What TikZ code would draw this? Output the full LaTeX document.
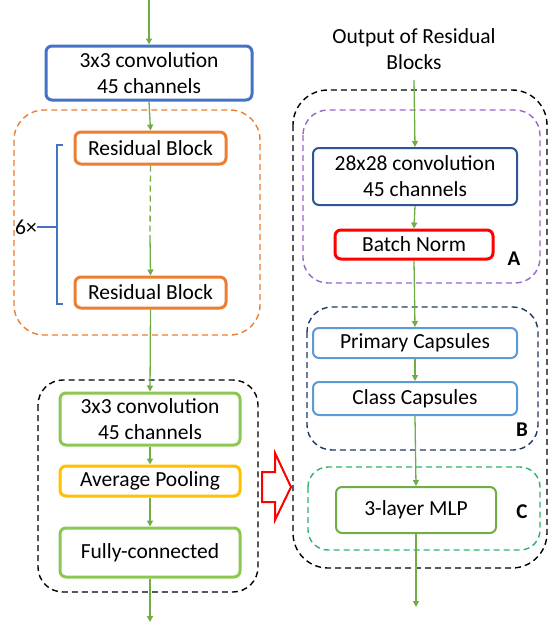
\documentclass[tikz,border=0pt]{standalone}
\usepackage{fontspec}
\setmainfont{Carlito}
\usetikzlibrary{arrows.meta}
\definecolor{cblue}{HTML}{4472C4}
\definecolor{corange}{HTML}{ED7D31}
\definecolor{cgreen}{HTML}{8CC751}
\definecolor{cgreenB}{HTML}{70AD47}
\definecolor{cyellow}{HTML}{FFC000}
\definecolor{cnavy}{HTML}{2F5597}
\definecolor{cdarknavy}{HTML}{1F3864}
\definecolor{clight}{HTML}{5B9BD5}
\definecolor{cpurple}{HTML}{9966CC}
\definecolor{cdgreen}{HTML}{2DB36A}
\tikzset{
  box/.style={draw, rounded corners=6pt, fill=white, align=center, inner sep=0pt,
    font=\fontsize{21.5}{26}\selectfont},
  thickbox/.style={box, line width=3pt},
  thinbox/.style={box, line width=2pt},
  flow/.style={draw=cgreenB, line width=1.3pt, -{Triangle[length=6pt,width=6pt]}},
  group/.style={line width=1.4pt, dash pattern=on 6pt off 4pt, rounded corners=#1},
  tag/.style={font=\fontsize{21}{24}\selectfont\bfseries}
}
\begin{document}
\begin{tikzpicture}[x=1pt,y=-1pt]
\useasboundingbox (0,0) rectangle (548,624);

% ---- left branch: group frames ----
\draw[group=30pt, draw=corange] (14,110) rectangle (260,335);
\draw[group=25pt, draw=black] (38,380) rectangle (258,592);

% ---- left branch: blocks ----
\node[thickbox, draw=cblue, minimum width=206pt, minimum height=54pt] (conv1) at (149,73) {3x3 convolution\\45 channels};
\node[thickbox, draw=corange, minimum width=151pt, minimum height=32pt] (rb1) at (150.5,148) {Residual Block};
\node[thickbox, draw=corange, minimum width=151pt, minimum height=31pt] (rb2) at (150.5,292.5) {Residual Block};
\node[thickbox, draw=cgreen, minimum width=180pt, minimum height=52pt] (conv2) at (150,419) {3x3 convolution\\45 channels};
\node[thickbox, draw=cyellow, minimum width=180pt, minimum height=30pt] (pool) at (150,481) {Average Pooling};
\node[thickbox, draw=cgreen, minimum width=180pt, minimum height=49pt] (fc) at (150,552.5) {Fully-connected};

\coordinate (in1) at (149,0);
\coordinate (gap) at (150,235);
\coordinate (out1) at (150,622);

\draw[flow] (in1) -- (conv1.north);
\draw[flow] (conv1.south) -- (rb1.north);
\draw[draw=cgreenB, line width=1.3pt, dash pattern=on 6pt off 4pt] (rb1.south) -- (gap);
\draw[flow] (gap) -- (rb2.north);
\draw[flow] (rb2.south) -- (conv2.north);
\draw[flow] (conv2.south) -- (pool.north);
\draw[flow] (pool.south) -- (fc.north);
\draw[flow] (fc.south) -- (out1);

% repetition bracket
\coordinate (brtop) at (63,145);
\coordinate (brbot) at (63,304);
\node[font=\fontsize{21.5}{26}\selectfont, anchor=west, inner sep=0pt] (rep) at (15,227) {6×};
\draw[cblue, line width=1.5pt] (brtop) -- (57,145) -- (57,304) -- (brbot);
\draw[cblue, line width=1.5pt] (57,227) -- (rep.east);

% hand-over arrow
\draw[red, line width=2pt, fill=white] (262,472) -- (275,472) -- (275,453) -- (291,487)
  -- (275,520) -- (275,502) -- (262,502) -- cycle;

% ---- right branch ----
\node[font=\fontsize{21.5}{26}\selectfont, align=center, inner sep=0pt] (title) at (414,49) {Output of Residual\\Blocks};

\draw[group=35pt, draw=black] (293,90) rectangle (547,568);
\draw[group=25pt, draw=cpurple] (303,110) rectangle (540,283);
\draw[group=25pt, draw=cdarknavy] (307,307) rectangle (538,450);
\draw[group=20pt, draw=cdgreen] (308,467) rectangle (540,550);

\node[thinbox, draw=cnavy, minimum width=204pt, minimum height=57pt] (conv3) at (415,176.5) {28x28 convolution\\45 channels};
\node[thickbox, draw=red, minimum width=158pt, minimum height=29pt] (bn) at (414,244.5) {Batch Norm};
\node[thinbox, draw=clight, minimum width=204pt, minimum height=30pt] (prim) at (415,343) {Primary Capsules};
\node[thinbox, draw=clight, minimum width=204pt, minimum height=33pt] (cls) at (415,398.5) {Class Capsules};
\node[thinbox, draw=cgreenB, minimum width=160pt, minimum height=46pt] (mlp) at (416,510) {3-layer MLP};

\node[tag] (labA) at (514,259) {A};
\node[tag] (labB) at (522,430) {B};
\node[tag] (labC) at (522,512) {C};

\coordinate (in2) at (414,80);
\coordinate (out2) at (416,607);
\draw[flow] (in2) -- (conv3.north);
\draw[flow] (conv3.south) -- (bn.north);
\draw[flow] (bn.south) -- (prim.north);
\draw[flow] (prim.south) -- (cls.north);
\draw[flow] (cls.south) -- (mlp.north);
\draw[flow] (mlp.south) -- (out2);
\end{tikzpicture}
\end{document}
